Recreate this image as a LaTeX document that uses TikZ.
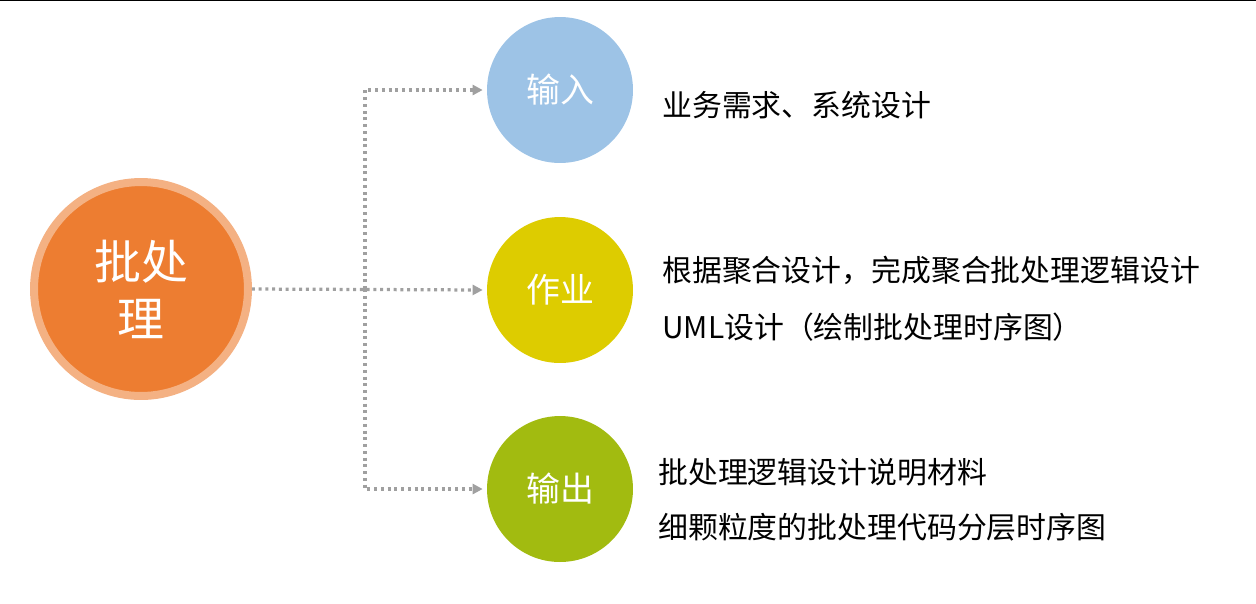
\documentclass[tikz,border=0pt]{standalone}
\usepackage{fontspec}
\newfontfamily\cjk{Noto Sans CJK SC}
\usetikzlibrary{arrows.meta}

\definecolor{batchdark}{HTML}{ED7D31}
\definecolor{batchlight}{HTML}{F4B183}
\definecolor{inblue}{HTML}{9DC3E6}
\definecolor{jobyellow}{HTML}{DDCC00}
\definecolor{outgreen}{HTML}{A2BB10}
\definecolor{linkgray}{HTML}{A0A0A0}

\tikzset{
    stage/.style={circle, fill=#1, minimum size=2.92cm, inner sep=0pt,
        text=white, font=\cjk\fontsize{19.3}{23}\selectfont},
    note/.style={anchor=west, inner sep=0pt,
        font=\cjk\fontsize{17}{20}\selectfont},
    link/.style={draw=linkgray, line width=0.065cm,
        dash pattern=on 0.06cm off 0.075cm,
        -{Triangle[length=0.2cm, width=0.2cm]}, shorten >=0.08cm}
}

\begin{document}
\begin{tikzpicture}[x=0.02cm, y=-0.02cm]
    \useasboundingbox (0,0) rectangle (1256,603);
    \draw[line width=0.04cm] (0,0) -- (1256,0);

    \node[circle, fill=batchdark, draw=batchlight, line width=0.16cm,
        minimum size=4.28cm, inner sep=0pt, text=white, align=center,
        font=\cjk\fontsize{26.7}{32.4}\selectfont]
        (batch) at (141,289) {批处\\理};

    \foreach \n/\y/\col/\txt in {
        in/90/inblue/输入, job/290/jobyellow/作业, out/489/outgreen/输出%
    } {
        \node[stage=\col] (\n) at (560,\y) {\txt};
    }

    \node[note] (t1) at (662,105) {业务需求、系统设计};
    \node[note] (t2) at (662,270) {根据聚合设计，完成聚合批处理逻辑设计};
    \node[note] (t3) at (662,327) {UML设计（绘制批处理时序图）};
    \node[note] (t4) at (658,472) {批处理逻辑设计说明材料};
    \node[note] (t5) at (658,527) {细颗粒度的批处理代码分层时序图};

    \coordinate (fork) at (365,289);
    \draw[link] (batch.east) -- (job.west);
    \foreach \b in {in, out} {
        \draw[link] (fork) |- (\b.west);
    }
\end{tikzpicture}
\end{document}
